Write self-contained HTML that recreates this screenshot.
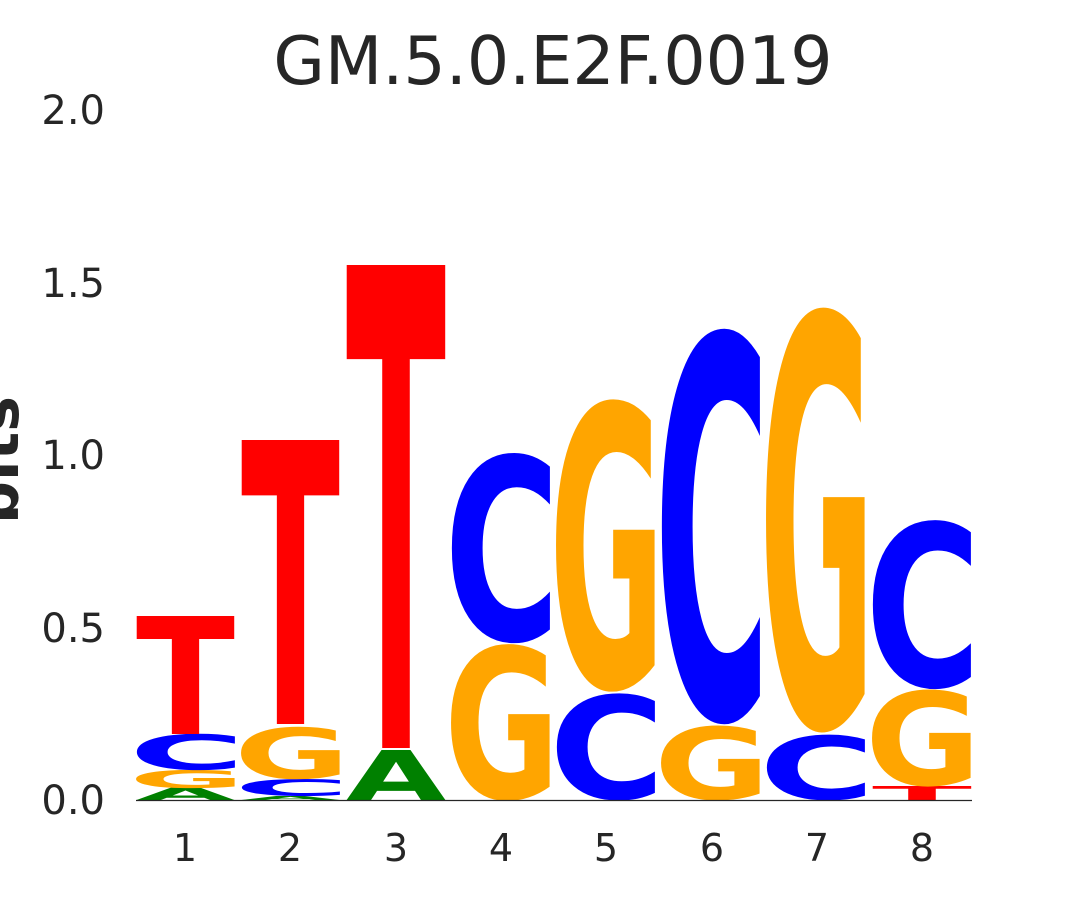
<!DOCTYPE html>
<html><head><meta charset="utf-8"><style>html,body{margin:0;padding:0;background:#fff}</style></head>
<body>
<svg width="1080" height="900" viewBox="0 0 1080 900" xmlns="http://www.w3.org/2000/svg" font-family="DejaVu Sans, Liberation Sans, sans-serif">
<text x="553" y="84" font-size="66.5" text-anchor="middle" fill="#262626">GM.5.0.E2F.0019</text>
<text transform="translate(18,460) rotate(-90)" font-size="60" text-anchor="middle" font-weight="bold" fill="#262626">bits</text>
<g font-size="40" fill="#262626" text-anchor="end">
<text x="105" y="814">0.0</text><text x="105" y="642">0.5</text><text x="105" y="469">1.0</text><text x="105" y="297">1.5</text><text x="105" y="124">2.0</text>
</g>
<g font-size="38" fill="#262626" text-anchor="middle">
<text x="185" y="861">1</text><text x="290" y="861">2</text><text x="396" y="861">3</text><text x="501" y="861">4</text><text x="606" y="861">5</text><text x="712" y="861">6</text><text x="817" y="861">7</text><text x="922" y="861">8</text>
</g>
<g font-size="100" font-weight="bold">
<!-- col1 -->
<text transform="translate(136,800) scale(1,0.165)" textLength="99" lengthAdjust="spacingAndGlyphs" fill="#008000">A</text>
<text transform="translate(129,787.8) scale(1,0.241)" textLength="116" lengthAdjust="spacingAndGlyphs" fill="#ffa500">G</text>
<text transform="translate(129,769.5) scale(1,0.482)" textLength="116" lengthAdjust="spacingAndGlyphs" fill="#0000ff">C</text>
<text transform="translate(136,734) scale(1,1.619)" textLength="99" lengthAdjust="spacingAndGlyphs" fill="#ff0000">T</text>
<!-- col2 -->
<text transform="translate(241,800) scale(1,0.055)" textLength="99" lengthAdjust="spacingAndGlyphs" fill="#008000">A</text>
<text transform="translate(234,795.8) scale(1,0.227)" textLength="116" lengthAdjust="spacingAndGlyphs" fill="#0000ff">C</text>
<text transform="translate(234,778.3) scale(1,0.695)" textLength="116" lengthAdjust="spacingAndGlyphs" fill="#ffa500">G</text>
<text transform="translate(241,724) scale(1,3.896)" textLength="99" lengthAdjust="spacingAndGlyphs" fill="#ff0000">T</text>
<!-- col3 -->
<text transform="translate(346,800) scale(1,0.686)" textLength="100" lengthAdjust="spacingAndGlyphs" fill="#008000">A</text>
<text transform="translate(346,748) scale(1,6.625)" textLength="100" lengthAdjust="spacingAndGlyphs" fill="#ff0000">T</text>
<!-- col4 -->
<text transform="translate(444,798) scale(1,2.073)" textLength="116" lengthAdjust="spacingAndGlyphs" fill="#ffa500">G</text>
<text transform="translate(444,639.6) scale(1,2.515)" textLength="116" lengthAdjust="spacingAndGlyphs" fill="#0000ff">C</text>
<!-- col5 -->
<text transform="translate(549,798.6) scale(1,1.418)" textLength="116" lengthAdjust="spacingAndGlyphs" fill="#0000ff">C</text>
<text transform="translate(549,686.2) scale(1,3.865)" textLength="116" lengthAdjust="spacingAndGlyphs" fill="#ffa500">G</text>
<!-- col6 -->
<text transform="translate(654,799) scale(1,0.990)" textLength="116" lengthAdjust="spacingAndGlyphs" fill="#ffa500">G</text>
<text transform="translate(654,716.9) scale(1,5.230)" textLength="116" lengthAdjust="spacingAndGlyphs" fill="#0000ff">C</text>
<!-- col7 -->
<text transform="translate(759,799.2) scale(1,0.870)" textLength="116" lengthAdjust="spacingAndGlyphs" fill="#0000ff">C</text>
<text transform="translate(759,724.5) scale(1,5.617)" textLength="116" lengthAdjust="spacingAndGlyphs" fill="#ffa500">G</text>
<!-- col8 -->
<text transform="translate(872,800) scale(1,0.192)" textLength="100" lengthAdjust="spacingAndGlyphs" fill="#ff0000">T</text>
<text transform="translate(865,784.8) scale(1,1.284)" textLength="116" lengthAdjust="spacingAndGlyphs" fill="#ffa500">G</text>
<text transform="translate(865,685.9) scale(1,2.234)" textLength="116" lengthAdjust="spacingAndGlyphs" fill="#0000ff">C</text>
</g>
<line x1="136" y1="800.5" x2="972" y2="800.5" stroke="#262626" stroke-width="1.2"/>
</svg>
</body></html>
